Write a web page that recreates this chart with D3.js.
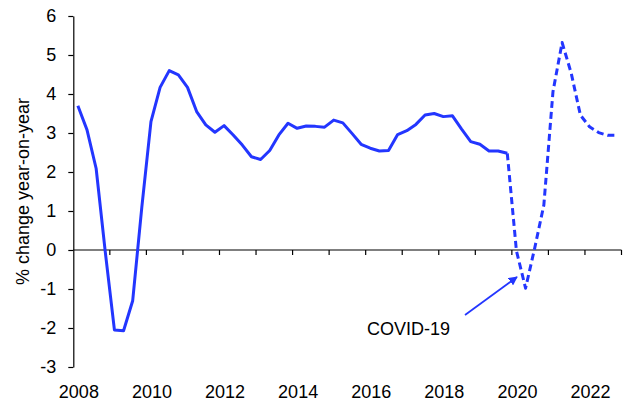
<!DOCTYPE html>
<html>
<head>
<meta charset="utf-8">
<script src="https://cdn.jsdelivr.net/npm/d3@7"></script>
<style>
  html, body { margin: 0; padding: 0; background: #fff; }
  svg { display: block; font-family: "Liberation Sans", Arial, sans-serif; }
</style>
</head>
<body>
<svg id="chart" width="629" height="401"></svg>
<script>
// ---- Data ----
const quarters = [
  "2008Q1","2008Q2","2008Q3","2008Q4","2009Q1","2009Q2","2009Q3","2009Q4",
  "2010Q1","2010Q2","2010Q3","2010Q4","2011Q1","2011Q2","2011Q3","2011Q4",
  "2012Q1","2012Q2","2012Q3","2012Q4","2013Q1","2013Q2","2013Q3","2013Q4",
  "2014Q1","2014Q2","2014Q3","2014Q4","2015Q1","2015Q2","2015Q3","2015Q4",
  "2016Q1","2016Q2","2016Q3","2016Q4","2017Q1","2017Q2","2017Q3","2017Q4",
  "2018Q1","2018Q2","2018Q3","2018Q4","2019Q1","2019Q2","2019Q3","2019Q4",
  "2020Q1","2020Q2","2020Q3","2020Q4","2021Q1","2021Q2","2021Q3","2021Q4",
  "2022Q1","2022Q2","2022Q3","2022Q4"
];
// Actual data (2008Q1 - 2019Q4)
const actual = [
  3.70, 3.08, 2.09, -0.05, -2.05, -2.07, -1.30, 1.10,
  3.29, 4.17, 4.60, 4.49, 4.17, 3.55, 3.21, 3.02,
  3.19, 2.95, 2.69, 2.39, 2.32, 2.55, 2.95, 3.25,
  3.12, 3.18, 3.17, 3.15, 3.33, 3.26, 2.99, 2.71,
  2.61, 2.54, 2.55, 2.96, 3.06, 3.22, 3.46, 3.50,
  3.42, 3.44, 3.10, 2.78, 2.71, 2.54, 2.54, 2.48
];
// Forecast (2019Q4 - 2022Q4), starts from the last actual point
const forecastStart = "2019Q4";
const forecast = [
  2.48, -0.02, -0.98, 0.05, 1.15, 4.06, 5.32, 4.53, 3.46, 3.16, 3.01, 2.94, 2.94
];
const yTicks = [-3, -2, -1, 0, 1, 2, 3, 4, 5, 6];
const yearLabels = ["2008","2010","2012","2014","2016","2018","2020","2022"];
const yTitle = "% change year-on-year";
const annotation = "COVID-19";

// ---- Layout ----
const svg = d3.select("#chart");
const plotL = 73.3, plotR = 621.5, plotT = 16, plotB = 367;
const blue = "#2336FF";
const fontSize = 18;

const x = d3.scaleBand().domain(quarters).range([plotL, plotR]).padding(0);
const bw = x.bandwidth();
const cx = q => x(q) + bw / 2;
const y = d3.scaleLinear().domain([-3, 6]).range([plotB, plotT]);

// Y axis
const yAxis = d3.axisLeft(y).tickValues(yTicks).tickSizeInner(5).tickSizeOuter(0)
  .tickPadding(12).tickFormat(d => String(d));
const gy = svg.append("g").attr("transform", `translate(${plotL},0)`).call(yAxis);
gy.select(".domain").attr("stroke", "#000").attr("stroke-width", 1.2);
gy.selectAll(".tick line").attr("stroke", "#000").attr("stroke-width", 1.2);
gy.selectAll(".tick text").attr("font-size", fontSize).attr("fill", "#000")
  .attr("font-family", "Liberation Sans, Arial, sans-serif");

// X axis at zero line, ticks at year boundaries
const boundaryQs = quarters.filter((q, i) => i % 4 === 0 && i > 0);
const gx = svg.append("g").attr("transform", `translate(0,${y(0)})`);
gx.append("line").attr("x1", plotL).attr("x2", plotR).attr("y1", 0).attr("y2", 0)
  .attr("stroke", "#000").attr("stroke-width", 1.2);
gx.selectAll("line.tk").data([...boundaryQs.map(q => x(q)), plotR]).enter()
  .append("line").attr("class", "tk")
  .attr("x1", d => d).attr("x2", d => d).attr("y1", 0).attr("y2", 5)
  .attr("stroke", "#000").attr("stroke-width", 1.2);

// Year labels at bottom
svg.selectAll("text.year").data(yearLabels).enter().append("text")
  .attr("class", "year")
  .attr("x", d => cx(d + "Q1") + 1)
  .attr("y", 398)
  .attr("text-anchor", "middle")
  .attr("font-size", fontSize)
  .attr("fill", "#000")
  .text(d => d);

// Y title
svg.append("text")
  .attr("transform", `translate(29,${(plotT + plotB) / 2}) rotate(-90)`)
  .attr("text-anchor", "middle")
  .attr("font-size", fontSize)
  .attr("fill", "#000")
  .text(yTitle);

// Lines
const line = d3.line().x(d => cx(d.q)).y(d => y(d.v));
const actualData = actual.map((v, i) => ({ q: quarters[i], v }));
const fIdx = quarters.indexOf(forecastStart);
const forecastData = forecast.map((v, i) => ({ q: quarters[fIdx + i], v }));

svg.append("path").datum(actualData).attr("d", line)
  .attr("fill", "none").attr("stroke", blue).attr("stroke-width", 3)
  .attr("stroke-linejoin", "round");
svg.append("path").datum(forecastData).attr("d", line)
  .attr("fill", "none").attr("stroke", blue).attr("stroke-width", 3)
  .attr("stroke-dasharray", "7,4").attr("stroke-linejoin", "round");

// Annotation arrow
const defs = svg.append("defs");
defs.append("marker").attr("id", "arrow").attr("viewBox", "0 0 10 10")
  .attr("refX", 9).attr("refY", 5).attr("markerWidth", 5).attr("markerHeight", 5)
  .attr("orient", "auto")
  .append("path").attr("d", "M0,0 L10,5 L0,10 z").attr("fill", blue);
svg.append("line")
  .attr("x1", 465).attr("y1", 315).attr("x2", 517).attr("y2", 277)
  .attr("stroke", blue).attr("stroke-width", 1.8)
  .attr("marker-end", "url(#arrow)");
svg.append("text")
  .attr("x", 408.5).attr("y", 335)
  .attr("text-anchor", "middle")
  .attr("font-size", fontSize)
  .attr("fill", "#000")
  .text(annotation);
</script>
</body>
</html>
